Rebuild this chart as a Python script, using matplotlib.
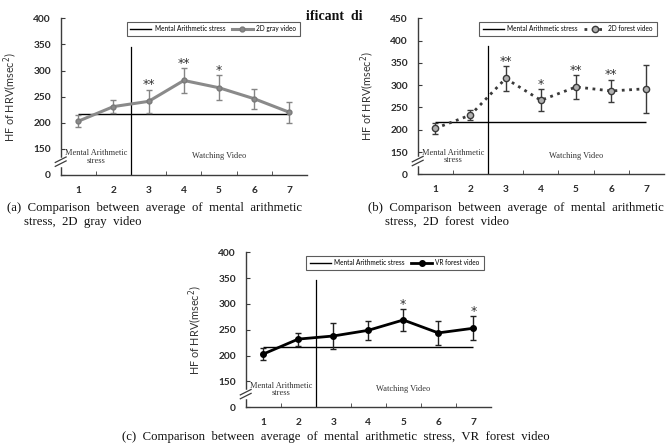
import matplotlib
matplotlib.use("Agg")
import matplotlib.pyplot as plt
from matplotlib.lines import Line2D
import numpy as np

W, H = 671, 447

SESSIONS = [1, 2, 3, 4, 5, 6, 7]

GRAY_MEAN = [203, 231, 241, 281, 267, 246, 220]
GRAY_ERR = [12, 13, 22, 24, 23.5, 19, 20.5]
GRAY_STARS = ["", "", "**", "**", "*", "", ""]
GRAY_STRESS = 217

FOREST_MEAN = [203, 233, 315, 266, 296, 287, 292]
FOREST_ERR = [13, 11, 27, 24.5, 26.5, 25.5, 54]
FOREST_STARS = ["", "", "**", "*", "**", "**", ""]
FOREST_STRESS = 218

VR_MEAN = [203, 232, 238, 249, 269, 244, 253]
VR_ERR = [12, 12.5, 25, 19, 21.5, 22.5, 23.5]
VR_STARS = ["", "", "", "", "*", "", "*"]
VR_STRESS = 217

YTICKS_400 = [0, 150, 200, 250, 300, 350, 400]
YTICKS_450 = [0, 150, 200, 250, 300, 350, 400, 450]
BREAK_AT = 100  # 0 is drawn at the position of 100 (broken axis)

SANS = ["Lato", "DejaVu Sans"]
SERIF = ["Liberation Serif", "DejaVu Serif"]
AXIS_COLOR = "#3c3c3c"


def px_axes(fig, left, right, bottom, top):
    return fig.add_axes([left / W, 1 - bottom / H, (right - left) / W, (bottom - top) / H])


def draw_panel(ax, mean, err, stars, stress, yticks, series_label, style, vline_top=0.82):
    ytick_pos = [BREAK_AT if v == 0 else v for v in yticks]
    ax.set_xlim(0.5, 7.5)
    ax.set_ylim(BREAK_AT, yticks[-1])

    ax.hlines(stress, SESSIONS[0], SESSIONS[-1], color="black", linewidth=1.0, zorder=2)
    ax.axvline(2.5, ymin=0, ymax=vline_top, color="black", linewidth=0.9, zorder=2)

    ax.errorbar(SESSIONS, mean, yerr=err, capsize=2.5, elinewidth=1.0, capthick=1.0,
                ecolor=style["ecolor"], zorder=3, **style["line"])

    for xi, yi, ei, s in zip(SESSIONS, mean, err, stars):
        if s:
            ax.annotate(s, (xi, yi + ei), xytext=(0, 3.5), textcoords="offset points",
                        ha="center", va="center", fontsize=9, color="#333333",
                        family="DejaVu Sans")

    ax.text(1.5, 0.115, "Mental Arithmetic\nstress", transform=ax.get_xaxis_transform(),
            ha="center", va="center", fontsize=6, family=SERIF, color="#333333",
            linespacing=0.95)
    ax.text(5.0, 0.12, "Watching Video", transform=ax.get_xaxis_transform(),
            ha="center", va="center", fontsize=6, family=SERIF, color="#333333")

    ax.set_yticks(ytick_pos)
    ax.set_yticklabels([str(v) for v in yticks])
    ax.set_xticks(SESSIONS)
    ax.set_xticks(np.arange(1.5, 7.0, 1.0), minor=True)
    ax.tick_params(axis="x", which="major", length=0, pad=8)
    ax.tick_params(axis="x", which="minor", length=3, direction="in", color=AXIS_COLOR)
    ax.tick_params(axis="y", which="major", length=3, direction="in", pad=7, color=AXIS_COLOR)
    for lab in ax.get_xticklabels() + ax.get_yticklabels():
        lab.set_fontsize(7.3)
        lab.set_family(SANS)
        lab.set_color("#2a2a2a")
        lab.set_fontweight("bold")

    for side in ("top", "right"):
        ax.spines[side].set_visible(False)
    for side in ("left", "bottom"):
        ax.spines[side].set_color(AXIS_COLOR)
        ax.spines[side].set_linewidth(1.0)

    ax.set_ylabel("HF of HRV(msec$^2$)", fontsize=7.8, family=SANS, color="#333333")
    ax.yaxis.set_label_coords(-0.17, 0.5)

    # broken-axis marks
    ax.plot([0, 0], [0.065, 0.105], transform=ax.transAxes, color="white",
            linewidth=2.5, clip_on=False, zorder=5)
    for dy in (0.0, 0.025):
        ax.plot([-0.022, 0.022], [0.055 + dy, 0.09 + dy], transform=ax.transAxes,
                color=AXIS_COLOR, linewidth=0.9, clip_on=False, zorder=6)

    handles = [
        Line2D([], [], color="black", linewidth=1.0),
        Line2D([], [], **style["line"]),
    ]
    leg = ax.legend(handles, ["Mental Arithmetic stress", series_label], loc="upper right",
                    bbox_to_anchor=(0.984, 1.0), ncol=2, frameon=True,
                    fancybox=False, edgecolor="#333333", handlelength=3.2,
                    columnspacing=1.0, handletextpad=0.5, borderpad=0.6,
                    prop={"family": SANS, "size": 4.7})
    leg.get_frame().set_linewidth(0.8)


fig = plt.figure(figsize=(W / 100, H / 100), dpi=100)

ax_a = px_axes(fig, 60.7, 307, 175, 18.3)
draw_panel(ax_a, GRAY_MEAN, GRAY_ERR, GRAY_STARS, GRAY_STRESS, YTICKS_400, "2D gray video",
           {"ecolor": "#858585",
            "line": dict(color="#8a8a8a", linewidth=2.2, marker="o", markersize=3.5,
                         markerfacecolor="#8a8a8a", markeredgecolor="#7a7a7a")})

ax_b = px_axes(fig, 417.7, 664, 174.3, 18.3)
draw_panel(ax_b, FOREST_MEAN, FOREST_ERR, FOREST_STARS, FOREST_STRESS, YTICKS_450,
           "2D forest video",
           {"ecolor": "#3a3a3a",
            "line": dict(color="#3a3a3a", linewidth=2.0, linestyle=":", marker="o",
                         markersize=4.5, markerfacecolor="#b0b0b0",
                         markeredgecolor="#3a3a3a")})

ax_c = px_axes(fig, 245.7, 490.8, 407.3, 252.3)
draw_panel(ax_c, VR_MEAN, VR_ERR, VR_STARS, VR_STRESS, YTICKS_400, "VR forest video",
           {"ecolor": "#222222",
            "line": dict(color="black", linewidth=2.0, marker="o", markersize=4,
                         markerfacecolor="black", markeredgecolor="black")})

cap = dict(fontsize=9.2, family=SERIF, color="#111111", va="center", ha="left")
fig.text(7 / W, 1 - 208 / H, "(a)  Comparison  between  average  of  mental  arithmetic", **cap)
fig.text(24 / W, 1 - 222 / H, "stress,  2D  gray  video", **cap)
fig.text(368 / W, 1 - 208 / H, "(b)  Comparison  between  average  of  mental  arithmetic", **cap)
fig.text(385 / W, 1 - 222 / H, "stress,  2D  forest  video", **cap)
fig.text(336 / W, 1 - 437 / H,
         "(c)  Comparison  between  average  of  mental  arithmetic  stress,  VR  forest  video",
         **{**cap, "ha": "center"})
fig.text(306 / W, 1 - 17 / H, "ificant  di", fontsize=10, family=SERIF, fontweight="bold",
         va="center", ha="left", color="#111111")

fig.savefig("out.png", dpi=100)
